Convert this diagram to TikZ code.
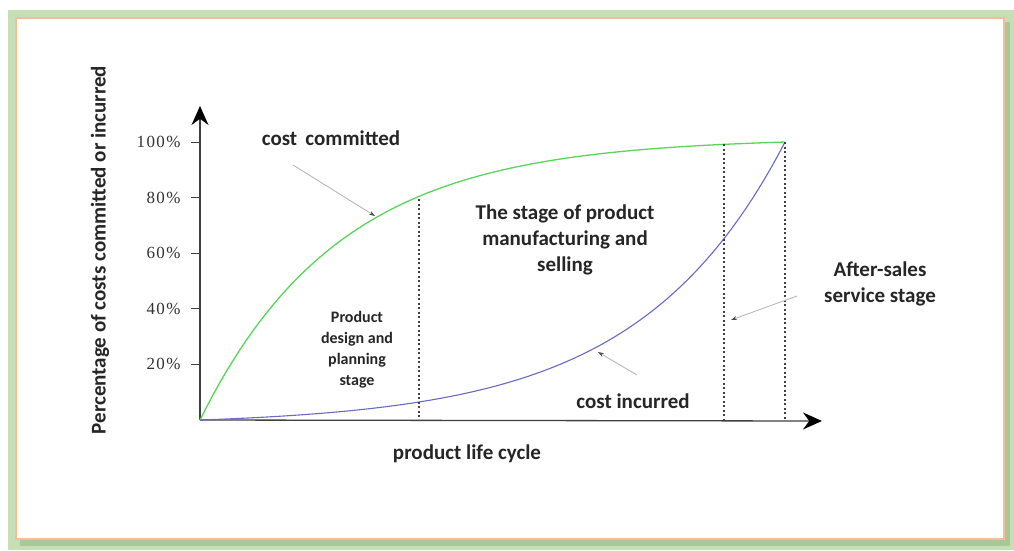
\documentclass[tikz,border=0pt]{standalone}
\usepackage{fontspec}
\setmainfont{Carlito}
\newfontfamily\tickfont{Liberation Serif}
\usetikzlibrary{arrows.meta}
\definecolor{framegreen}{HTML}{C7DFB5}
\definecolor{shadegreen}{HTML}{A9C79A}
\definecolor{peach}{HTML}{F2BE96}
\definecolor{curvegreen}{HTML}{5AD45A}
\definecolor{curveblue}{HTML}{6A6AC4}
\tikzset{
  lbl/.style={font=\fontsize{21}{26}\selectfont\bfseries, text=black!85, align=center},
  small lbl/.style={font=\fontsize{16}{21}\selectfont\bfseries, text=black!85, align=center},
  tick lbl/.style={font=\fontsize{17}{17}\selectfont\tickfont, text=black!80, anchor=east},
  pointer/.style={gray!55, line width=0.9pt, -{Stealth[length=6pt,width=4pt,black!70]}},
  stage line/.style={black!75, line width=1.1pt, dash pattern=on 2pt off 2.5pt},
}
\begin{document}
\begin{tikzpicture}[x=1pt,y=-1pt]
\useasboundingbox (0,0) rectangle (1014,550);
% frame
\fill[framegreen] (8,10) rectangle (1014,550);
\fill[shadegreen] (20,22) rectangle (1010,546);
\filldraw[fill=white, draw=peach, line width=2pt] (16,18) rectangle (1004,539);
% axes
\coordinate (O) at (200,420);
\draw[black!75, line width=1.3pt, -{Stealth[length=19pt,width=17pt,black]}] (O) -- (200,106);
\draw[black!75, line width=1.3pt, -{Stealth[length=19pt,width=17pt,black]}] (O) -- (822,421);
\foreach \p/\v in {1/20,2/40,3/60,4/80,5/100} {
  \draw[black!75, line width=1pt] (191,{420-55.6*\p}) -- (200,{420-55.6*\p});
  \node[tick lbl] at (184,{420-55.6*\p}) {\addfontfeature{LetterSpace=8}\v\%};
}
% curves
\draw[curvegreen, line width=1.3pt] plot[domain=0:1, samples=90] ({200+585*\x},{420-278*(1-exp(-4.2*\x))/(1-exp(-4.2))});
\draw[curveblue, line width=1.1pt] plot[domain=0:1, samples=90] ({200+585*\x},{420-278*(exp(4*\x)-1)/(exp(4)-1)});
% stage borders
\draw[stage line] (419,199) -- (419,420);
\draw[stage line] (724,144) -- (724,420);
\draw[stage line] (785,142) -- (785,420);
% labels
\node[lbl] (committed) at (331,138) {cost\, committed};
\node[lbl] (making) at (565,240) {The stage of product\\manufacturing and\\selling};
\node[small lbl] (design) at (357,350) {Product\\design and\\planning\\stage};
\node[lbl] (aftersales) at (880,284) {After-sales\\service stage};
\node[lbl] (incurred) at (633,401) {cost incurred};
\node[lbl] (cycle) at (467,454) {product life cycle};
\node[lbl, rotate=90] (percent) at (100,250) {Percentage of costs committed or incurred};
% pointers
\coordinate (c1) at (293,165);
\coordinate (c2) at (375,216);
\coordinate (i1) at (637,375);
\coordinate (i2) at (598,352);
\coordinate (a1) at (797,296);
\coordinate (a2) at (731,320);
\draw[pointer] (c1) -- (c2);
\draw[pointer] (i1) -- (i2);
\draw[pointer] (a1) -- (a2);
\end{tikzpicture}
\end{document}
